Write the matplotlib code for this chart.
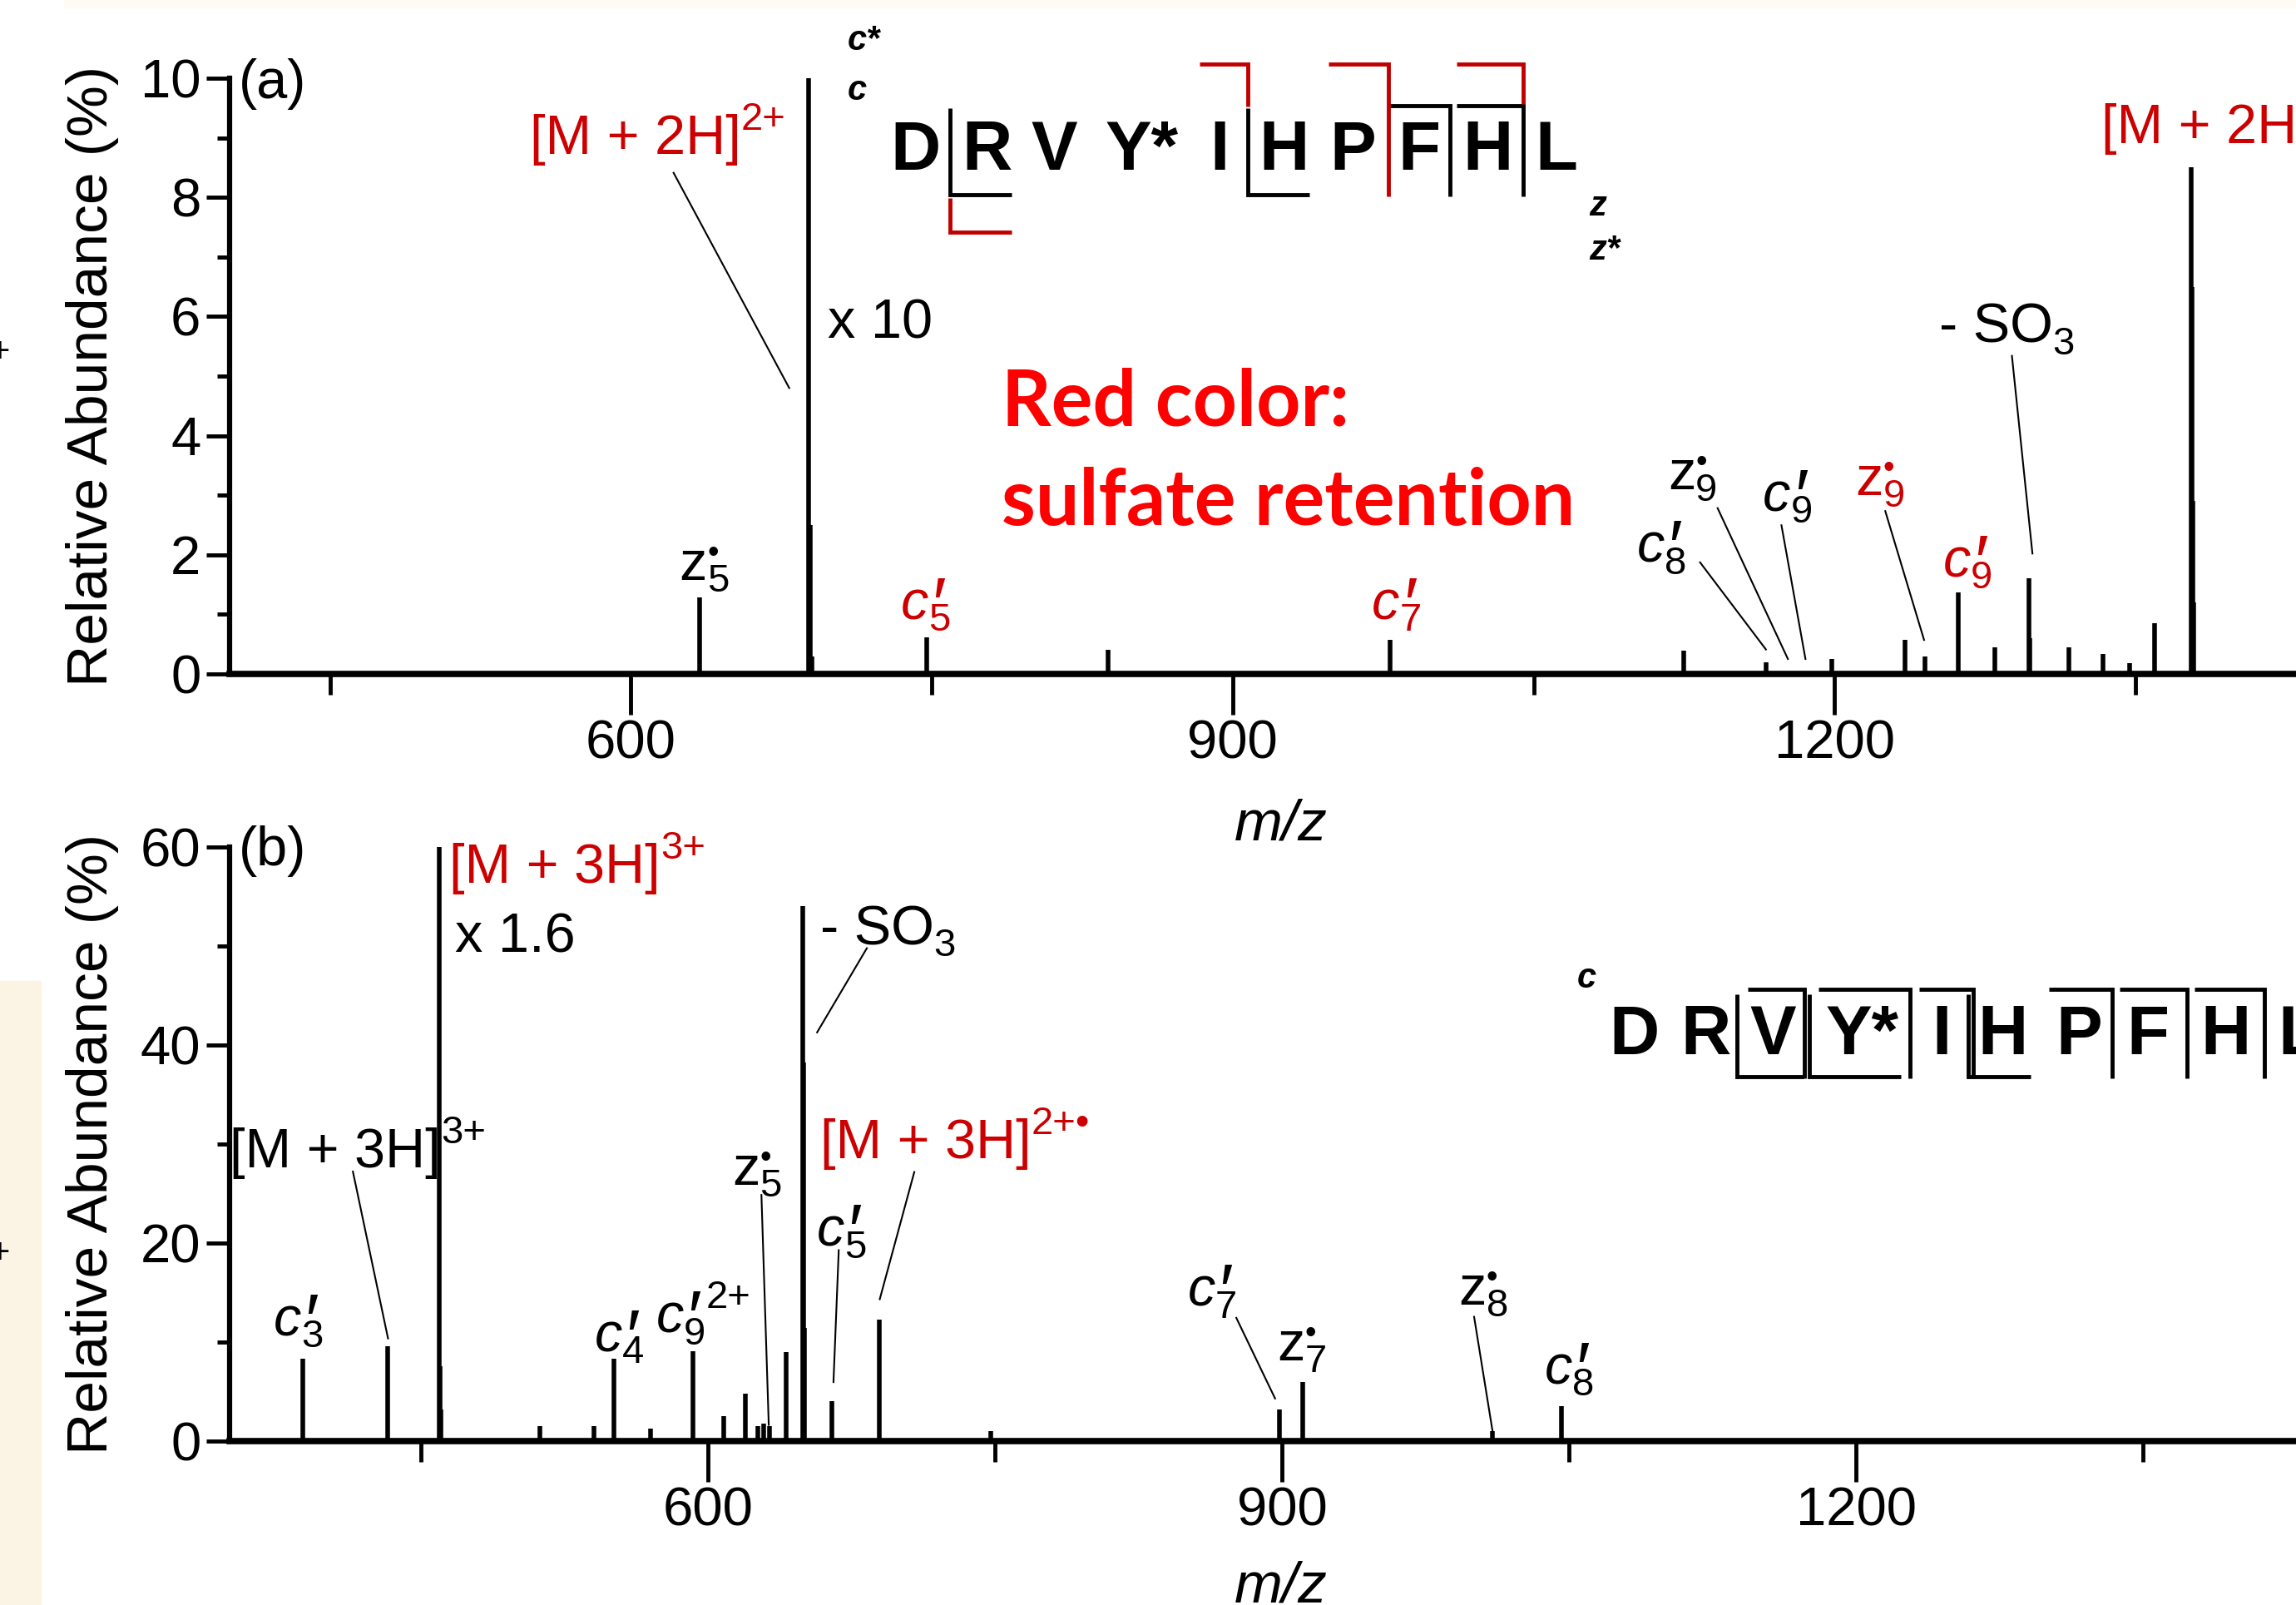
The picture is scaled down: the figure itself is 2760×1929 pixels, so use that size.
import numpy as np
import matplotlib.pyplot as plt
from matplotlib.transforms import Affine2D, ScaledTranslation
from matplotlib.lines import Line2D
from matplotlib.patches import Rectangle

plt.rcParams['font.family'] = ['Liberation Sans', 'DejaVu Sans']

RED = '#cc0000'

# ---- data ----
# (a) ETD spectrum of [M + 2H]2+
top_mz = [634.2, 688.8, 689.3, 690.1, 747.3, 837.7, 978.4, 1124.7, 1165.8, 1198.5,
          1235.0, 1245.0, 1261.5, 1280.0, 1296.7, 1297.3, 1316.6, 1334.0, 1347.0,
          1359.7, 1377.6, 1378.1, 1378.6, 1379.1]
top_int = [1.28, 10.0, 2.5, 0.3, 0.62, 0.4, 0.57, 0.39, 0.2, 0.25,
           0.57, 0.29, 1.37, 0.45, 1.61, 0.6, 0.45, 0.33, 0.18,
           0.85, 8.5, 6.5, 2.9, 1.2]

# (b) ETD spectrum of [M + 3H]3+
bot_mz = [388.4, 432.8, 459.6, 460.0, 460.3, 512.2, 540.5, 550.9, 570.0, 592.0,
          608.3, 619.5, 626.0, 629.0, 632.0, 640.9, 649.7, 650.0, 650.4, 664.7,
          689.5, 748.0, 898.5, 910.9, 1009.8, 1046.1]
bot_int = [8.3, 9.6, 60.0, 7.6, 3.2, 1.5, 1.5, 8.3, 1.3, 9.1,
           2.5, 4.8, 1.5, 1.8, 1.5, 9.0, 54.0, 38.2, 11.4, 4.0,
           12.3, 1.0, 3.2, 6.0, 1.0, 3.5]

top_xlim = (400, 1430)
bot_xlim = (350, 1430)
x_major = [600, 900, 1200]
x_minor = [450, 750, 1050, 1350]
top_yticks = [0, 2, 4, 6, 8, 10]
top_yminor = [1, 3, 5, 7, 9]
bot_yticks = [0, 20, 40, 60]
bot_yminor = [10, 30, 50]

sequence = ['D', 'R', 'V', 'Y*', 'I', 'H', 'P', 'F', 'H', 'L']

fig = plt.figure(figsize=(27.6, 19.29), dpi=100)
renderer = fig.canvas.get_renderer()
# layout helper: coordinates of the 1568x1096 reference, y downwards
ref = Affine2D().scale(1 / 1568, -1 / 1096).translate(0, 1) + fig.transFigure

# slide background remnants
fig.patches.append(Rectangle((0, 670), 28, 426, transform=ref, color='#fbf4e4', zorder=0))
fig.patches.append(Rectangle((44, 0), 1524, 5, transform=ref, color='#fefbf4', zorder=0))
fig.text(0, 241, '+', transform=ref, fontsize=30, ha='center', va='center')
fig.text(0, 856, '+', transform=ref, fontsize=30, ha='center', va='center')

ax1 = fig.add_axes([0.1, 0.58009, 0.9, 0.37118])
ax2 = fig.add_axes([0.1, 0.10213, 0.9, 0.37014])


def style(ax, xlim, ylim, yt, ym):
    ax.set_xlim(xlim)
    ax.set_ylim(ylim)
    ax.patch.set_alpha(0)
    for s in ['top', 'right']:
        ax.spines[s].set_visible(False)
    ax.spines['left'].set_linewidth(4.5)
    ax.spines['bottom'].set_linewidth(5.5)
    ax.set_xticks(x_major)
    ax.set_xticks(x_minor, minor=True)
    ax.set_yticks(yt)
    ax.set_yticks(ym, minor=True)
    ax.tick_params(axis='x', which='major', length=35, width=3.5, pad=4, labelsize=47)
    ax.tick_params(axis='x', which='minor', length=18, width=3.5)
    ax.tick_params(axis='y', which='major', length=20, width=3.5, pad=5, labelsize=47)
    ax.tick_params(axis='y', which='minor', length=11, width=3.5)
    ax.text(-0.0664, 0.5, 'Relative Abundance (%)', transform=ax.transAxes,
            rotation=90, ha='center', va='center', fontsize=50)


style(ax1, top_xlim, (0, 10), top_yticks, top_yminor)
style(ax2, bot_xlim, (0, 60), bot_yticks, bot_yminor)
ax1.text(0.5089, -0.2528, 'm/z', transform=ax1.transAxes, style='italic',
         fontsize=50, ha='center', va='center')
ax2.text(0.5089, -0.2465, 'm/z', transform=ax2.transAxes, style='italic',
         fontsize=50, ha='center', va='center')

ax1.vlines(top_mz, 0, top_int, color='k', lw=4)
ax2.vlines(bot_mz, 0, bot_int, color='k', lw=4)

# ---- peak labels built from pieces: (text, kind) ----
# kind: size (pt), rise (pt), font style
SPEC = {'n': (48, 0, 'normal'), 'i': (48, 0, 'italic'),
        'sub': (34, -10, 'normal'), 'sup': (34, 21, 'normal'),
        'prime': (64, -9, 'italic'), 'dot': (28, 15, 'normal')}


def label(x, y, parts, color='k'):
    ox, sub_w = 0.0, 0.0
    for s, kind in parts:
        size, rise, fstyle = SPEC[kind]
        tr = ref + ScaledTranslation(ox / 72, rise / 72, fig.dpi_scale_trans)
        t = fig.text(x, y, s, transform=tr, fontsize=size, style=fstyle, color=color,
                     ha='left', va='baseline')
        w = t.get_window_extent(renderer).width * 72 / fig.dpi
        if kind == 'sub':
            sub_w = w
        else:
            ox += max(w, sub_w) if kind in ('sup', 'prime', 'dot') else w
            sub_w = 0.0


def c_ion(n, extra=None):
    parts = [('c', 'i'), (n, 'sub'), ('\u2032', 'prime')]
    if extra:
        parts.append((extra, 'sup'))
    return parts


def z_ion(n):
    return [('z', 'n'), (n, 'sub'), ('\u2022', 'dot')]


B = 13  # baseline offset from the visual centre, reference pixels
labels = [
    ([('(a)', 'n')], 163, 54, 'k'),
    ([('[M + 2H]', 'n'), ('2+', 'sup')], 362, 92, RED),
    ([('x 10', 'n')], 565, 218, 'k'),
    (z_ion('5'), 464, 383, 'k'),
    (c_ion('5'), 615, 410, RED),
    (c_ion('7'), 937, 410, RED),
    (z_ion('9'), 1139, 321, 'k'),
    (c_ion('9'), 1204, 336, 'k'),
    (c_ion('8'), 1118, 371, 'k'),
    (z_ion('9'), 1267, 325, RED),
    (c_ion('9'), 1327, 381, RED),
    ([('- SO', 'n'), ('3', 'sub')], 1324, 221, 'k'),
    ([('[M + 2H]', 'n'), ('2+', 'sup')], 1435, 85, RED),
    ([('(b)', 'n')], 163, 578, 'k'),
    ([('[M + 3H]', 'n'), ('3+', 'sup')], 307, 590, RED),
    ([('x 1.6', 'n')], 311, 637, 'k'),
    ([('[M + 3H]', 'n'), ('3+', 'sup')], 157, 784, 'k'),
    (c_ion('3'), 187, 899, 'k'),
    (c_ion('4'), 406, 910, 'k'),
    (c_ion('9', '2+'), 448, 897, 'k'),
    (z_ion('5'), 500, 796, 'k'),
    (c_ion('5'), 558, 838, 'k'),
    ([('- SO', 'n'), ('3', 'sub')], 560, 632, 'k'),
    ([('[M + 3H]', 'n'), ('2+\u2022', 'sup')], 560, 778, RED),
    (c_ion('7'), 811, 879, 'k'),
    (z_ion('7'), 872, 916, 'k'),
    (z_ion('8'), 996, 878, 'k'),
    (c_ion('8'), 1055, 932, 'k'),
]
for parts, x, y, c in labels:
    label(x, y + B, parts, c)

leaders = [
    ((460, 118), (539, 265)), ((1173, 347), (1221, 450)), ((1216.6, 358.7), (1233, 450)),
    ((1161, 384), (1206, 443.5)), ((1287.5, 349), (1314, 437)), ((1374, 243), (1388, 378)),
    ((241, 800), (265, 914)), ((520, 816), (525, 973)), ((592, 647.5), (558, 705)),
    ((624.4, 800.3), (600.8, 887.2)), ((572.8, 853.7), (569.2, 943.8)),
    ((844.3, 899.9), (870.8, 955)), ((1006.7, 899.2), (1019.3, 977.3)),
]
for (x0, y0), (x1, y1) in leaders:
    fig.add_artist(Line2D([x0, x1], [y0, y1], transform=ref, color='k', lw=1.5))

fig.text(684, 275, 'Red color:', transform=ref, color='#ff0000', fontsize=67,
         fontweight='bold', family='Lato', ha='left', va='center')
fig.text(684, 343, 'sulfate retention', transform=ref, color='#ff0000', fontsize=67,
         fontweight='bold', family='Lato', ha='left', va='center')

# ---- sequence with fragment markers ----
top_letter_x = [625, 674, 720, 780, 833, 877, 924, 969, 1016, 1063]
bot_letter_x = [1116, 1165, 1211, 1272, 1326, 1368, 1420, 1467, 1520, 1570]
for s, x in zip(sequence, top_letter_x):
    fig.text(x, 116, s, transform=ref, fontsize=60, fontweight='bold', ha='center', va='baseline')
for s, x in zip(sequence, bot_letter_x):
    fig.text(x, 720, s, transform=ref, fontsize=60, fontweight='bold', ha='center', va='baseline')

small = dict(transform=ref, fontsize=30, fontweight='bold', style='italic', ha='left', va='center')
fig.text(579, 28, 'c*', **small)
fig.text(579, 62, 'c', **small)
fig.text(1085, 141, 'z', **small)
fig.text(1085, 171, 'z*', **small)
fig.text(1077, 668, 'c', **small)

black_marks = [
    [(649, 74), (649, 133), (691, 133)],
    [(852, 74), (852, 133), (894, 133)],
    [(949, 72), (990, 72), (990, 134)],
    [(995, 72), (1040, 72), (1040, 134)],
    [(1186.5, 679), (1186.5, 735), (1231.7, 735)],
    [(1235.6, 679), (1235.6, 735), (1297.9, 735)],
    [(1344.1, 679), (1344.1, 735), (1386.8, 735)],
    [(1193.4, 675.5), (1232.5, 675.5), (1232.5, 736.6)],
    [(1241.8, 675.5), (1304.2, 675.5), (1304.2, 736.6)],
    [(1310.4, 675.5), (1347.8, 675.5), (1347.8, 736.6)],
    [(1399.2, 675.5), (1442.2, 675.5), (1442.2, 736.6)],
    [(1447.5, 675.5), (1493.6, 675.5), (1493.6, 736.6)],
    [(1498.9, 675.5), (1546.3, 675.5), (1546.3, 736.6)],
]
red_marks = [
    [(649, 135), (649, 158.6), (691, 158.6)],
    [(819, 43.6), (852, 43.6), (852, 73)],
    [(907, 43.6), (948, 43.6), (948, 134)],
    [(995, 43.6), (1040, 43.6), (1040, 71)],
]
for pts, c in [(p, 'k') for p in black_marks] + [(p, '#c00000') for p in red_marks]:
    xs, ys = zip(*pts)
    fig.add_artist(Line2D(xs, ys, transform=ref, color=c, lw=3.5,
                          solid_joinstyle='miter', solid_capstyle='butt'))

fig.savefig('out.png', dpi=100)
